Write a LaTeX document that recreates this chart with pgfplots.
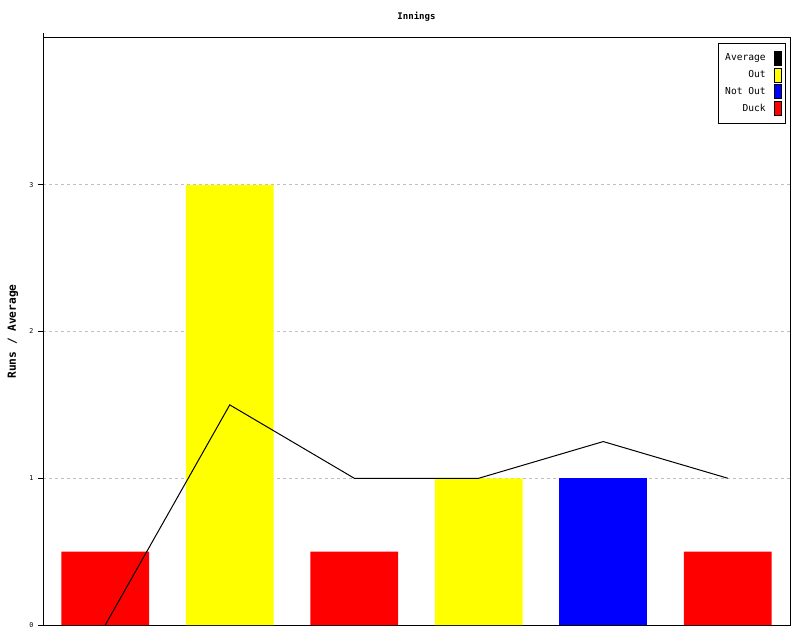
\documentclass[border=0pt]{standalone}
\usepackage{fontspec}
\setmainfont{DejaVu Sans Mono}
\usepackage{pgfplots}
\pgfplotsset{compat=1.18}
\definecolor{duck}{RGB}{255,0,0}
\definecolor{outc}{RGB}{255,255,0}
\definecolor{notout}{RGB}{0,0,255}

\begin{document}
\begin{tikzpicture}
\useasboundingbox (0,0) rectangle (600pt,480pt);
\begin{axis}[
    name=ax,
    at={(32.25pt,11.25pt)}, anchor=south west,
    width=560.25pt, height=440.25pt, scale only axis,
    xmin=-0.5, xmax=5.5, ymin=0, ymax=4,
    xtick=\empty, ytick={0,1,2,3}, ytick pos=left,
    tick align=outside, major tick length=3.75pt,
    tick style={line width=0.75pt, black},
    /pgf/number format/assume math mode=true,
    yticklabel style={font=\fontsize{5}{6}\selectfont},
    ymajorgrids,
    grid style={black!25, line width=0.75pt, dash pattern=on 2.25pt off 2.25pt},
    axis line style={line width=0.75pt},
    title={\bfseries Innings},
    every axis title/.style={at={(axis description cs:0.5,1)}, anchor=center,
        yshift=15.75pt, font=\fontsize{6.8}{8}\selectfont},
    ylabel={\bfseries Runs / Average},
    every axis y label/.style={at={(axis description cs:-0.0402,0.5)}, rotate=90,
        anchor=center, font=\fontsize{8.4}{10}\selectfont},
    reverse legend,
    legend plot pos=right,
    legend cell align=right,
    legend style={at={(axis description cs:1,1)}, anchor=north east,
        xshift=-3pt, yshift=-3.75pt, draw=black, line width=0.75pt,
        font=\fontsize{7.2}{8.6}\selectfont, row sep=1.5pt, column sep=4pt,
        inner xsep=3pt, inner ysep=5.5pt},
]
\addplot[ybar, bar shift=0pt, bar width=0.706, fill=duck, draw=none,
    legend image code/.code={\draw[fill=duck, draw=black, line width=0.6pt] (0pt,-5.25pt) rectangle (5.25pt,5.25pt);}]
    coordinates {(0,0.5) (2,0.5) (5,0.5)};
\addlegendentry{Duck}
\addplot[ybar, bar shift=0pt, bar width=0.706, fill=notout, draw=none,
    legend image code/.code={\draw[fill=notout, draw=black, line width=0.6pt] (0pt,-5.25pt) rectangle (5.25pt,5.25pt);}]
    coordinates {(4,1)};
\addlegendentry{Not Out}
\addplot[ybar, bar shift=0pt, bar width=0.706, fill=outc, draw=none,
    legend image code/.code={\draw[fill=outc, draw=black, line width=0.6pt] (0pt,-5.25pt) rectangle (5.25pt,5.25pt);}]
    coordinates {(1,3) (3,1)};
\addlegendentry{Out}
\addplot[black, line width=0.75pt, mark=none, sharp plot,
    legend image code/.code={\draw[fill=black, draw=black, line width=0.6pt] (0pt,-5.25pt) rectangle (5.25pt,5.25pt);}]
    coordinates {(0,0) (1,1.5) (2,1) (3,1) (4,1.25) (5,1)};
\addlegendentry{Average}
\end{axis}
\draw[line width=0.75pt] (ax.north west) -- ++(0,3.75pt);
\end{tikzpicture}
\end{document}
